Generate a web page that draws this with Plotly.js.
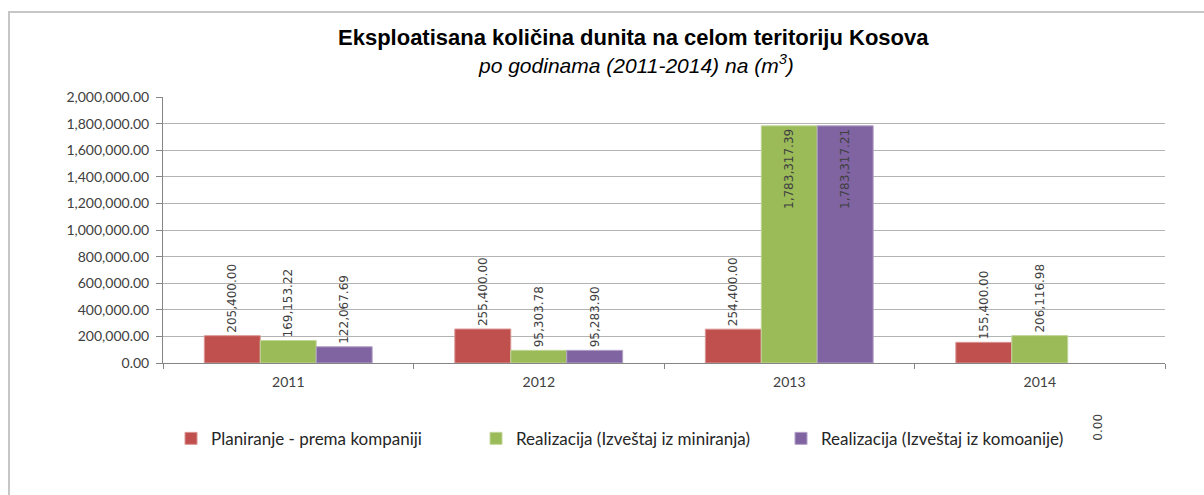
<!DOCTYPE html>
<html>
<head>
<meta charset="utf-8">
<script src="https://cdn.plot.ly/plotly-3.0.1.min.js"></script>
<style>
  html, body { margin: 0; padding: 0; background: #fff; }
  #wrap { position: relative; width: 1204px; height: 495px; }
  #chart { position: absolute; left: 0; top: 0; width: 1204px; height: 495px; }
  #frame { position: absolute; left: 8px; top: 11px; width: 1196px; height: 484px;
           border-left: 2px solid #c6c6c6; border-top: 2px solid #c6c6c6; pointer-events: none; }
</style>
</head>
<body>
<div id="wrap">
  <div id="chart"></div>
  <div id="frame"></div>
</div>
<script>
const years = ['2011', '2012', '2013', '2014'];
const seriesNames = ['Planiranje - prema kompaniji', 'Realizacija (Izveštaj iz miniranja)', 'Realizacija (Izveštaj iz komoanije)'];
const planiranje = [205400.00, 255400.00, 254400.00, 155400.00];
const realizacijaMiniranje = [169153.22, 95303.78, 1783317.39, 206116.98];
const realizacijaKomoanije = [122067.69, 95283.90, 1783317.21, 0.00];
const yTicks = [0, 200000, 400000, 600000, 800000, 1000000, 1200000, 1400000, 1600000, 1800000, 2000000];

const colors = ['#C0504D', '#9BBB59', '#8064A2'];
const edge = ['#D99694', '#C3D69B', '#B3A2C7'];
const labelFont = { family: 'DejaVu Sans, Verdana, sans-serif', size: 12, color: '#404040' };

function fmt(v) {
  return v.toLocaleString('en-US', { minimumFractionDigits: 2, maximumFractionDigits: 2 });
}

function mkTrace(name, vals, i) {
  const pos = vals.map(v => v > 1000000 ? 'inside' : 'outside');
  const tmpl = vals.map(v => v === 0 ? '' : '%{y:,.2f}');
  const lw = vals.map(v => v === 0 ? 0 : 1);
  return {
    type: 'bar', name: name, x: years, y: vals,
    marker: { color: colors[i], line: { color: edge[i], width: lw } },
    texttemplate: tmpl, textposition: pos, textangle: -90, constraintext: 'none',
    textfont: labelFont, insidetextfont: labelFont, outsidetextfont: labelFont,
    insidetextanchor: 'end', cliponaxis: false, hoverinfo: 'x+y+name'
  };
}

const data = [
  mkTrace(seriesNames[0], planiranje, 0),
  mkTrace(seriesNames[1], realizacijaMiniranje, 1),
  mkTrace(seriesNames[2], realizacijaKomoanije, 2)
];

const tickFont = { family: 'Lato, Calibri, sans-serif', size: 14, color: '#404040' };

const layout = {
  width: 1204, height: 495,
  margin: { l: 163, r: 39, t: 97, b: 132 },
  paper_bgcolor: '#ffffff', plot_bgcolor: '#ffffff',
  barmode: 'group', bargap: 0.33, bargroupgap: 0,
  showlegend: true,
  legend: {
    orientation: 'h', x: 0.008, xanchor: 'left', y: -0.285, yanchor: 'middle',
    entrywidth: 260, entrywidthmode: 'pixels',
    font: { family: 'Lato, Calibri, sans-serif', size: 17, color: '#262626' },
    traceorder: 'normal'
  },
  xaxis: {
    type: 'category', showgrid: false, zeroline: false,
    showline: true, linecolor: '#868686', linewidth: 1,
    ticks: 'outside', tickson: 'boundaries', ticklen: 5, tickcolor: '#868686',
    ticklabelstandoff: 6,
    tickfont: tickFont, fixedrange: true
  },
  yaxis: {
    range: [0, 2000000], tickvals: yTicks, tickformat: ',.2f',
    showgrid: true, gridcolor: '#b3b3b3', gridwidth: 1,
    zeroline: false, showline: true, linecolor: '#868686', linewidth: 1,
    ticks: 'outside', ticklen: 6, tickcolor: '#868686',
    ticklabelstandoff: 4,
    tickfont: tickFont, fixedrange: true
  },
  annotations: [
    { text: '<b>Eksploatisana količina dunita na celom teritoriju Kosova</b>',
      xref: 'paper', yref: 'paper', x: 0.47, y: 1, yshift: 60, xanchor: 'center', yanchor: 'middle',
      showarrow: false, font: { family: 'Liberation Sans, Arial, sans-serif', size: 22, color: '#000' } },
    { text: '<i>po godinama (2011-2014) na (m<sup>3</sup>)</i>',
      xref: 'paper', yref: 'paper', x: 0.472, y: 1, yshift: 33, xanchor: 'center', yanchor: 'middle',
      showarrow: false, font: { family: 'Liberation Sans, Arial, sans-serif', size: 21, color: '#000' } },
    { text: fmt(realizacijaKomoanije[3]),
      xref: 'paper', yref: 'paper', x: 0.933, y: -0.24, xanchor: 'center', yanchor: 'middle',
      textangle: -90, showarrow: false, font: labelFont }
  ]
};

Plotly.newPlot('chart', data, layout, { displayModeBar: false, staticPlot: true });
</script>
</body>
</html>
